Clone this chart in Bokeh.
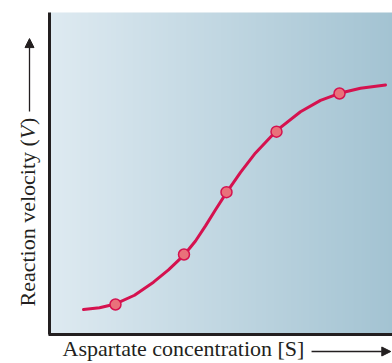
import numpy as np
from bokeh.plotting import figure
from bokeh.models import Range1d, FixedTicker, Arrow, NormalHead
from bokeh.core.properties import value
from bokeh.embed import file_html
from bokeh.resources import INLINE

# Curve (x: substrate concentration, y: reaction velocity, arbitrary units 0-10)
curve_x = [0.991, 1.458, 1.924, 2.478, 3.032, 3.469, 3.936, 4.257, 4.548, 4.840,
           5.160, 5.569, 6.006, 6.618, 7.318, 7.901, 8.455, 9.067, 9.796]
curve_y = [0.776, 0.829, 0.948, 1.219, 1.626, 2.008, 2.483, 2.905, 3.374, 3.874,
           4.407, 5.033, 5.639, 6.330, 6.919, 7.270, 7.491, 7.647, 7.748]

# Marked measurement points
point_x = [1.924, 3.921, 5.160, 6.618, 8.455]
point_y = [0.932, 2.484, 4.420, 6.300, 7.484]

x_label = "Aspartate concentration [S]"
y_label_parts = ["Reaction velocity (", "V", ")"]

X0, X1, Y0, Y1 = 0, 10, 0, 10
INK = "#231f20"
FONT = "Liberation Serif"
FS = "22px"

# frame covers the whole canvas; the data box (0..10 x 0..10) sits inside it
p = figure(frame_width=392, frame_height=363,
           x_range=Range1d(-1.4286, X1), y_range=Range1d(-0.9006, 10.3727),
           output_backend="svg", toolbar_location=None, min_border=0)

# horizontal gradient background inside the data box
n = 256
t = np.linspace(0, 1, n)
left = np.array([222, 234, 241], dtype=float)
right = np.array([163, 195, 210], dtype=float)
img = np.empty((1, n), dtype=np.uint32)
view = img.view(dtype=np.uint8).reshape((1, n, 4))
view[0, :, 0:3] = np.round(left + (right - left) * t[:, None]).astype(np.uint8)
view[0, :, 3] = 255
p.image_rgba(image=[img], x=X0, y=Y0, dw=X1 - X0, dh=Y1 - Y0)

p.line(curve_x, curve_y, line_color="#d5124f", line_width=3, line_join="round", line_cap="round")
p.scatter(point_x, point_y, size=11, fill_color="#e9717a", line_color="#d5124f", line_width=1.5)

p.grid.visible = False
p.outline_line_color = None
p.background_fill_color = "white"
p.border_fill_color = "white"

for ax in (p.xaxis[0], p.yaxis[0]):
    ax.ticker = FixedTicker(ticks=[])
    ax.minor_tick_line_color = None
    ax.major_tick_line_color = None
    ax.major_tick_out = 0
    ax.major_label_text_font_size = "0px"
    ax.major_label_standoff = 0
    ax.axis_line_width = 3
    ax.axis_line_color = INK
    ax.fixed_location = 0
p.xaxis.bounds = (-0.03, X1)
p.yaxis.bounds = (Y0, Y1)

# axis titles
p.text(x=[0.379], y=[-0.435], text=[x_label], text_font=value(FONT), text_font_size=FS,
       text_color=INK, text_align="left", text_baseline="alphabetic")

ylab_x = [-0.641] * 3
ylab_y = [0.870, 6.068, 6.510]
styles = ["normal", "italic", "normal"]
for part, xx, yy, st in zip(y_label_parts, ylab_x, ylab_y, styles):
    p.text(x=[xx], y=[yy], text=[part], angle=np.pi / 2, text_font=value(FONT),
           text_font_size=FS, text_font_style=st, text_color=INK,
           text_align="left", text_baseline="alphabetic")

head = dict(size=9, fill_color=INK, line_color=INK, line_width=1)
p.add_layout(Arrow(end=NormalHead(**head), x_start=7.64, y_start=-0.528, x_end=9.95, y_end=-0.528,
                   line_color=INK, line_width=1.3))
p.add_layout(Arrow(end=NormalHead(**head), x_start=-0.583, y_start=6.925, x_end=-0.583, y_end=9.19,
                   line_color=INK, line_width=1.3))

open("out.html", "w").write(file_html(p, INLINE))
